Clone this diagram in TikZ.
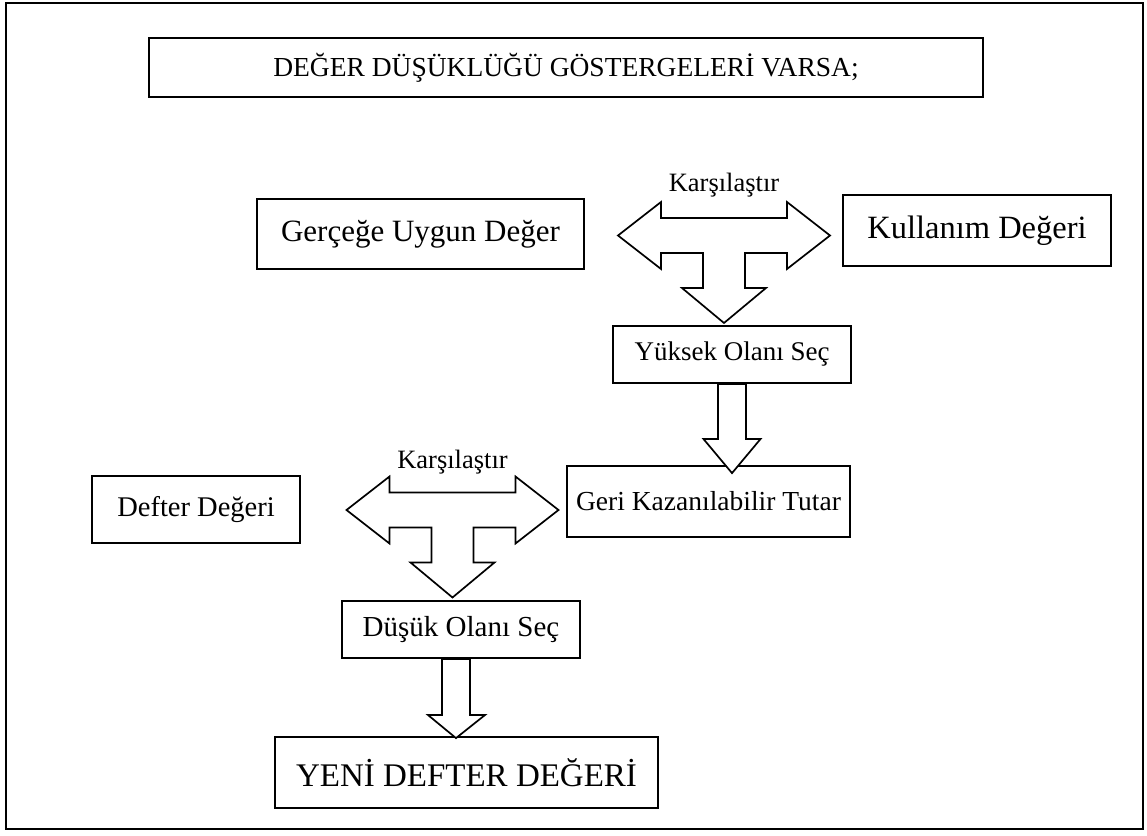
\documentclass[tikz,border=0pt]{standalone}
\usepackage{fontspec}
\setmainfont{Liberation Serif}
\newcommand{\txt}[1]{\fontsize{#1}{#1}\selectfont}
\tikzset{
  box/.style={draw, line width=1.8pt, inner sep=0pt, align=center},
  blockarrow/.style={draw, line width=1.7pt, line join=miter, fill=white},
  frame/.style={draw, line width=2.2pt},
  % double-headed arrow with a downward branch, drawn about its centre
  tarrow/.pic={
    \path[blockarrow] (-106,0) -- (-63,-33.5) -- (-63,-17.5) -- (63,-17.5)
      -- (63,-33.5) -- (106,0) -- (63,33.5) -- (63,17.5) -- (21,17.5)
      -- (21,52.5) -- (42,52.5) -- (0,87.5) -- (-42,52.5) -- (-21,52.5)
      -- (-21,17.5) -- (-63,17.5) -- (-63,33.5) -- cycle;
  }
}
\begin{document}
\begin{tikzpicture}[x=1pt,y=-1pt]
\useasboundingbox (0,0) rectangle (1147,835);
\path[frame] (6,3) rectangle (1143,829);

\node[box, minimum width=834pt, minimum height=59pt, font=\txt{27.5}] (head) at (566,67.5) {DEĞER DÜŞÜKLÜĞÜ GÖSTERGELERİ VARSA;};

\node[box, minimum width=327pt, minimum height=70pt, font=\txt{31}] (gud) at (420.5,234) {Gerçeğe Uygun Değer};
\node[box, minimum width=268pt, minimum height=71pt, font=\txt{32.5}] (kd) at (977,230.5) {Kullanım Değeri};
\node[box, minimum width=238pt, minimum height=57pt, font=\txt{27}] (yos) at (732,354.5) {Yüksek Olanı Seç};
\node[box, minimum width=283pt, minimum height=71pt, font=\txt{27.5}] (gkt) at (708.5,501.5) {Geri Kazanılabilir Tutar};
\node[box, minimum width=208pt, minimum height=67pt, font=\txt{28.5}] (dd) at (196,509.5) {Defter Değeri};
\node[box, minimum width=238pt, minimum height=57pt, font=\txt{29}] (dos) at (461,629.5) {Düşük Olanı Seç};
\node[box, minimum width=383pt, minimum height=71pt, font=\txt{33}] (ydd) at (466.5,772.5) {YENİ DEFTER DEĞERİ};

% comparison arrows
\pic at (724,235.5) {tarrow};
\node[font=\txt{26.5}] (k1) at (724,185) {Karşılaştır};
\pic at (452.5,510) {tarrow};
\node[font=\txt{26.5}] (k2) at (452.5,462) {Karşılaştır};

% downward block arrows between boxes
\path[blockarrow] ([xshift=-14pt]yos.south) -- ([xshift=-14pt]yos.south |- 0,439)
  -- ([xshift=-28.5pt]yos.south |- 0,439) -- ([yshift=-8pt]gkt.north -| yos.south)
  -- ([xshift=28.5pt]yos.south |- 0,439) -- ([xshift=14pt]yos.south |- 0,439)
  -- ([xshift=14pt]yos.south) -- cycle;
\path[blockarrow] ([xshift=-19pt]dos.south) -- ([xshift=-19pt]dos.south |- 0,715)
  -- ([xshift=-33pt]dos.south |- 0,715) -- ([yshift=-2pt,xshift=-5pt]ydd.north -| dos.south)
  -- ([xshift=24pt]dos.south |- 0,715) -- ([xshift=9pt]dos.south |- 0,715)
  -- ([xshift=9pt]dos.south) -- cycle;
\end{tikzpicture}
\end{document}
